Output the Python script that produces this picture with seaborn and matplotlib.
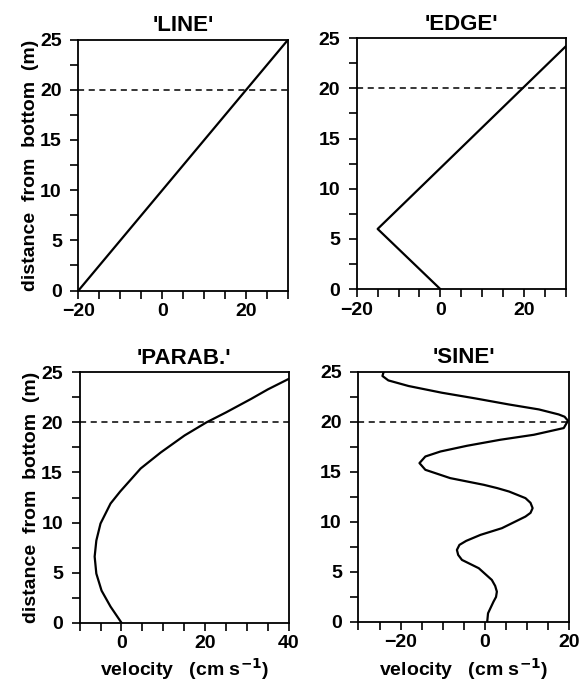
import numpy as np
import pandas as pd
import seaborn as sns
import matplotlib.pyplot as plt
from matplotlib.ticker import MultipleLocator

# profile data: velocity (cm/s) vs distance from bottom (m)
line_v = [-20, 30]
line_z = [0, 25]

edge_v = [0, -15, 30]
edge_z = [0, 6, 24.2]

parab_v = [0.0, -2.6, -4.75, -6.0, -6.4, -6.0, -5.0, -2.6, -0.3, 4.6, 9.4, 15.1, 20.3, 25.0, 31.0, 35.0, 40.0]
parab_z = [0.0, 1.6, 3.2, 4.9, 6.6, 8.2, 9.9, 11.9, 13.1, 15.4, 17.0, 18.7, 20.0, 21.0, 22.35, 23.3, 24.35]

sine_v = [0.6, 0.8, 2.1, 2.7, 2.9, 2.5, 1.7, -1.4, -5.4, -6.3, -6.6, -6.0, -4.4, -1.0,
          4.1, 9.7, 10.9, 11.4, 10.9, 9.7, 5.8, 3.0, -0.2, -8.2, -14.1, -15.5, -14.1,
          -10.5, -4.2, 3.7, 11.7, 18.8, 19.8, 19.0, 17.6, 12.9, 5.7, -2.2, -10.2, -18.1,
          -22.9, -24.3, -24.0]
sine_z = [0.0, 0.87, 2.03, 2.5, 3.03, 3.6, 4.2, 5.37, 6.2, 6.7, 7.2, 7.7, 8.1, 8.7,
          9.37, 10.53, 10.9, 11.37, 11.9, 12.37, 13.03, 13.37, 13.7, 14.37, 15.2, 15.87, 16.53,
          17.03, 17.6, 18.2, 18.7, 19.37, 20.1, 20.5, 20.73, 21.23, 21.73, 22.33, 22.9, 23.57,
          24.13, 24.57, 25.0]

titles = ["'LINE'", "'EDGE'", "'PARAB.'", "'SINE'"]
xlims = [(-20, 30), (-20, 30), (-10, 40), (-30, 20)]
profiles = [(line_v, line_z), (edge_v, edge_z), (parab_v, parab_z), (sine_v, sine_z)]

sns.set_style("ticks")
plt.rcParams['font.family'] = ['Liberation Sans', 'DejaVu Sans']
plt.rcParams['font.weight'] = 'bold'
plt.rcParams['axes.labelweight'] = 'bold'
plt.rcParams['axes.titleweight'] = 'bold'
plt.rcParams['mathtext.default'] = 'bf'
plt.rcParams['font.size'] = 14
plt.rcParams['axes.linewidth'] = 1.3
for k in ['text.color', 'axes.labelcolor', 'xtick.color', 'ytick.color', 'axes.edgecolor']:
    plt.rcParams[k] = 'black'

fig = plt.figure(figsize=(5.81, 6.82), dpi=100)
boxes = [[0.135, 0.574, 0.361, 0.368],
         [0.614, 0.576, 0.360, 0.368],
         [0.137, 0.087, 0.360, 0.367],
         [0.617, 0.088, 0.362, 0.367]]

for i in range(4):
    ax = fig.add_axes(boxes[i])
    v, z = profiles[i]
    df = pd.DataFrame({"v": v, "z": z})
    sns.lineplot(data=df, x="v", y="z", sort=False, estimator=None, color="black", lw=1.6, ax=ax)
    ax.axhline(20, color="black", lw=1.1, ls=(0, (4, 3)))
    ax.set_xlim(xlims[i])
    ax.set_ylim(0, 25)
    ax.xaxis.set_major_locator(MultipleLocator(20))
    ax.xaxis.set_minor_locator(MultipleLocator(5))
    ax.yaxis.set_major_locator(MultipleLocator(5))
    ax.yaxis.set_minor_locator(MultipleLocator(2.5))
    ax.tick_params(which="both", direction="out", length=6, width=1.2, labelsize=14)
    ax.tick_params(axis="y", pad=6)
    ax.tick_params(axis="x", pad=3)
    ax.set_title(titles[i], fontsize=16, pad=6)
    for s in ax.spines.values():
        s.set_visible(True)
    ax.set_xlabel("")
    ax.set_ylabel("")
    if i % 2 == 0:
        ax.set_ylabel("distance  from  bottom  (m)", fontsize=14, labelpad=1)
    if i >= 2:
        ax.set_xlabel("velocity   (cm s$^{-1}$)", fontsize=14, labelpad=3)

plt.savefig("out.png", dpi=100)
